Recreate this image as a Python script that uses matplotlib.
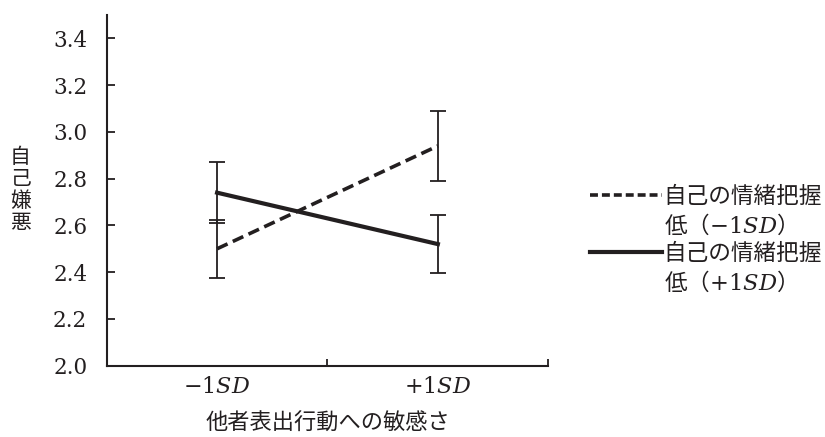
import matplotlib
matplotlib.use("Agg")
import matplotlib.pyplot as plt
from matplotlib.lines import Line2D

# fonts: CJK for Japanese text, serif for numbers, mathtext for italic SD
plt.rcParams["font.family"] = ["Noto Sans CJK JP", "DejaVu Sans"]
plt.rcParams["mathtext.fontset"] = "custom"
plt.rcParams["mathtext.rm"] = "Noto Sans CJK JP"
plt.rcParams["mathtext.it"] = "DejaVu Serif:italic"
plt.rcParams["mathtext.sf"] = "DejaVu Serif"

# data
x_labels = [r"$\mathsf{-1}\mathit{SD}$", r"$\mathsf{+1}\mathit{SD}$"]
low_mean = [2.50, 2.94]    # 自己の情緒把握 低 (-1SD)
low_err = [0.125, 0.15]
high_mean = [2.74, 2.52]   # 自己の情緒把握 高 (+1SD)
high_err = [0.13, 0.125]
y_ticks = [2.0, 2.2, 2.4, 2.6, 2.8, 3.0, 3.2, 3.4]
legend_labels = [
    "自己の情緒把握",
    r"$\mathrm{低（}\mathsf{-1}\mathit{SD}\mathrm{）}$",
    "自己の情緒把握",
    r"$\mathrm{低（}\mathsf{+1}\mathit{SD}\mathrm{）}$",
]

ink = "#231f20"
xpos = list(range(len(x_labels)))

fig = plt.figure(figsize=(8.25, 4.37), dpi=100)
ax = fig.add_axes([0.1293, 0.1632, 0.5353, 0.8025])

ax.errorbar(xpos, low_mean, yerr=low_err, color=ink, lw=2.6,
            linestyle=(0, (3.2, 1.6)), capsize=6, elinewidth=1.3, capthick=1.3)
ax.errorbar(xpos, high_mean, yerr=high_err, color=ink, lw=3.0,
            linestyle="-", capsize=6, elinewidth=1.3, capthick=1.3)

ax.set_xlim(-0.5, 1.5)
ax.set_ylim(2.0, 3.5)
ax.set_yticks(y_ticks)
ax.set_yticklabels([f"{v:.1f}" for v in y_ticks], family="DejaVu Serif", fontsize=15.5)
ax.set_xticks(xpos)
ax.set_xticklabels(x_labels, fontsize=16)
ax.set_xticks([0.5, 1.5], minor=True)

ax.tick_params(axis="y", direction="in", length=6, width=1.3, color=ink, pad=14, labelcolor=ink)
ax.tick_params(axis="x", which="major", length=0, pad=7, labelcolor=ink)
ax.tick_params(axis="x", which="minor", direction="in", length=5, width=1.3, color=ink)

for side in ["top", "right"]:
    ax.spines[side].set_visible(False)
for side in ["left", "bottom"]:
    ax.spines[side].set_linewidth(1.5)
    ax.spines[side].set_color(ink)

ax.set_xlabel("他者表出行動への敏感さ", fontsize=16, color=ink)
ax.xaxis.set_label_coords(0.5, -0.165)
ax.xaxis.label.set_va("center")
ax.set_ylabel("自\n己\n嫌\n悪", rotation=0, fontsize=15, color=ink, linespacing=1.0)
ax.yaxis.set_label_coords(-0.196, 0.5)
ax.yaxis.label.set_va("center")
ax.yaxis.label.set_ha("center")

handles = [
    Line2D([], [], color=ink, lw=2.6, linestyle=(0, (2.2, 1.1))),
    Line2D([], [], color="none"),
    Line2D([], [], color=ink, lw=3.0),
    Line2D([], [], color="none"),
]
ax.legend(handles, legend_labels, loc="upper left",
          bbox_to_anchor=(590 / 825, 1 - 185 / 437), bbox_transform=fig.transFigure,
          frameon=False, fontsize=16.3, handlelength=3.2, handletextpad=0.05,
          labelspacing=0.19, borderpad=0, borderaxespad=0, labelcolor=ink)

fig.savefig("out.png", dpi=100)
